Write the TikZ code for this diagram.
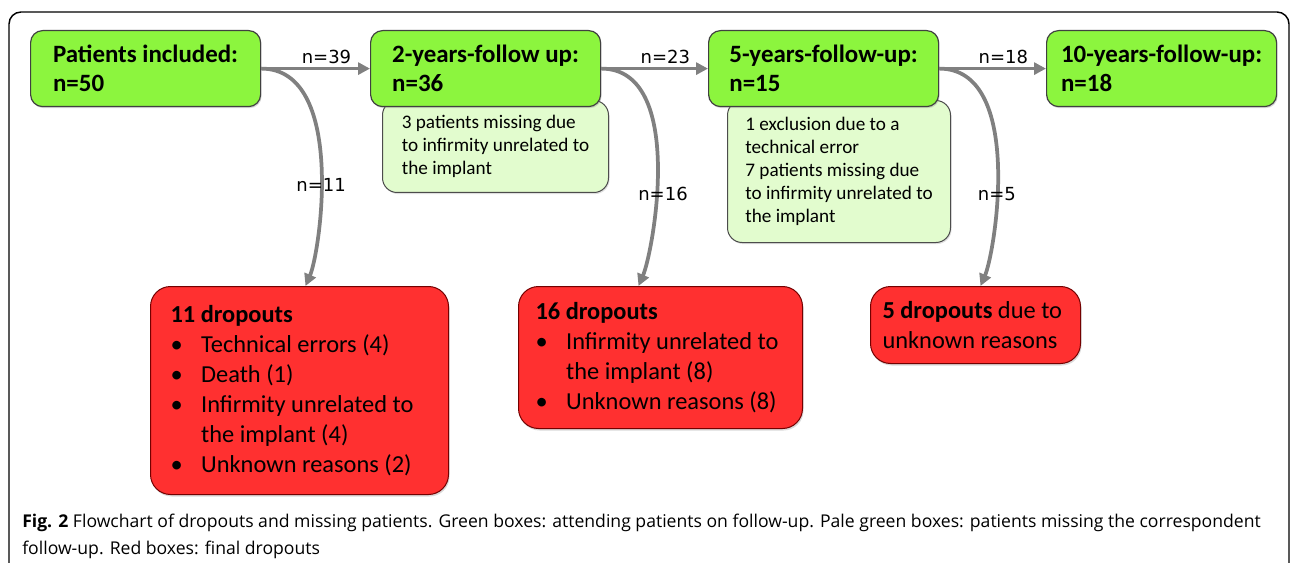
\documentclass[tikz,border=0pt]{standalone}
\usepackage{fontspec}
\setmainfont{Carlito}
\newfontfamily\labelfont{DejaVu Sans}
\newfontfamily\capfont{Open Sans}
\usepackage{xcolor}
\usepackage{tikz}
\usetikzlibrary{arrows.meta,shadows}

\definecolor{limegreen}{RGB}{140,245,62}
\definecolor{palegreen}{RGB}{226,252,206}
\definecolor{dropred}{RGB}{255,48,48}
\definecolor{flowgray}{RGB}{128,128,128}

\newcommand{\dropitem}{\makebox[23pt][l]{\textbullet}}
\newcommand{\dropcont}{\hspace*{23pt}}

\begin{document}
\begin{tikzpicture}[x=0.75pt,y=0.75pt,yscale=-1,xscale=1,
	followbox/.style={draw=black!75, line width=0.9pt, fill=limegreen, rounded corners=9pt, minimum width=172.5pt, minimum height=57pt, align=left, anchor=north west, inner sep=0pt, font={\fontsize{18.7pt}{21.75pt}\selectfont\bfseries}, drop shadow={opacity=0.3, shadow xshift=0.8pt, shadow yshift=-1.2pt}},
	missbox/.style={draw=black!70, line width=0.75pt, fill=palegreen, rounded corners=11pt, minimum width=169.5pt, align=left, anchor=north west, inner sep=0pt, font={\fontsize{14.4pt}{17.25pt}\selectfont}, drop shadow={opacity=0.25, shadow xshift=0.8pt, shadow yshift=-1.2pt}},
	dropbox/.style={draw=red!45!black, line width=0.75pt, fill=dropred, rounded corners=15pt, align=flush left, anchor=north west, inner ysep=0pt, font={\fontsize{18.3pt}{22.5pt}\selectfont}, drop shadow={opacity=0.3, shadow xshift=0.8pt, shadow yshift=-1.5pt}},
	flow/.style={draw=flowgray, line width=2.8pt, -{Triangle[length=9pt,width=9pt]}},
	count/.style={font={\labelfont\fontsize{13.5pt}{16pt}\selectfont}, inner sep=1pt}
	]
	\useasboundingbox (0,0) rectangle (1292,563);
	
	%Shape: Frame
	\draw [line width=1.1pt, rounded corners=9pt] (9,12) rectangle (1289,650);
	
	%Shape: Pale boxes (behind the follow-up boxes)
	\node[missbox, minimum height=69pt] (miss2) at (382,100) {3 patients missing due\\to infirmity unrelated to\\the implant};
	\node[missbox, minimum height=106.5pt, minimum width=167.25pt] (miss5) at (727,100) {1 exclusion due to a\\technical error\\7 patients missing due\\to infirmity unrelated to\\the implant};
	
	%Shape: Follow-up boxes
	\node[followbox] (incl) at (30,30) {Patients included:\\n=50};
	\node[followbox] (fu2) at (370,30) {2-years-follow up:\\n=36};
	\node[followbox] (fu5) at (708,30) {5-years-follow-up:\\n=15};
	\node[followbox] (fu10) at (1046,30) {10-years-follow-up:\\n=18};
	
	%Shape: Dropout boxes
	\node[dropbox, inner xsep=15pt, text width=193.5pt, minimum height=156pt] (d11) at (150,286) {\textbf{11 dropouts}\\\dropitem Technical errors (4)\\\dropitem Death (1)\\\dropitem Infirmity unrelated to\\\dropcont the implant (4)\\\dropitem Unknown reasons (2)};
	\node[dropbox, inner xsep=12.75pt, text width=187.5pt, minimum height=106.5pt] (d16) at (518,286) {\textbf{16 dropouts}\\\dropitem Infirmity unrelated to\\\dropcont the implant (8)\\\dropitem Unknown reasons (8)};
	\node[dropbox, inner xsep=6pt, text width=145.5pt, minimum height=57.75pt] (d5) at (870,286) {\hspace*{3pt}\textbf{5 dropouts} due to\\\hspace*{3pt}unknown reasons};
	
	%Straight Lines
	\draw[flow] (incl.east) -- node[count, above=1pt, pos=.6] (n39) {n=39} (fu2.west);
	\draw[flow] (fu2.east) -- node[count, above=1pt, pos=.6] (n23) {n=23} (fu5.west);
	\draw[flow] (fu5.east) -- node[count, above=1pt, pos=.6] (n18) {n=18} (fu10.west);
	
	%Curve Lines
	\draw[flow] (incl.east) .. controls +(85,0) and +(15,-35) .. node[count, pos=.57] (n11) {n=11} ([xshift=4.5pt]d11.north);
	\draw[flow] (fu2.east) .. controls +(85,0) and +(15,-35) .. node[count, pos=.6, xshift=5pt] (n16) {n=16} ([xshift=-16.5pt]d16.north);
	\draw[flow] (fu5.east) .. controls +(85,0) and +(15,-35) .. node[count, pos=.6] (n5) {n=5} ([xshift=3.75pt]d5.north);
	
	% Text Node
	\node[anchor=north west, align=left, inner sep=0pt, font={\capfont\fontsize{13.2pt}{20.25pt}\selectfont}] (caption) at (22,514) {\textbf{Fig. 2} Flowchart of dropouts and missing patients. Green boxes: attending patients on follow-up. Pale green boxes: patients missing the correspondent\\follow-up. Red boxes: final dropouts};
	
\end{tikzpicture}
\end{document}
